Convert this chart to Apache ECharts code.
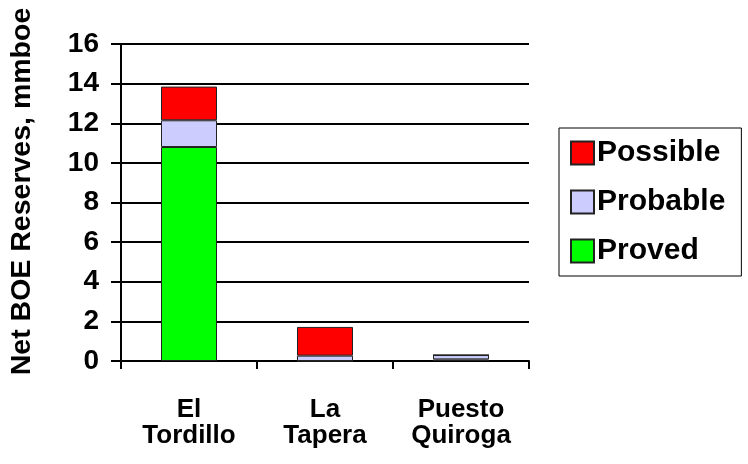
<!DOCTYPE html>
<html>
<head>
<meta charset="utf-8">
<script src="https://cdn.jsdelivr.net/npm/echarts@6/dist/echarts.min.js"></script>
<style>
  html, body { margin: 0; padding: 0; background: #fff; }
  #chart { width: 748px; height: 464px; }
</style>
</head>
<body>
<div id="chart"></div>
<script>
// Reserve categories (fields) and net BOE reserves per class, mmboe
const fields = ['El\nTordillo', 'La\nTapera', 'Puesto\nQuiroga'];
const proved = [10.8, 0, 0.08];
const probable = [1.35, 0.27, 0.22];
const possible = [1.7, 1.45, 0];
const yTicks = [0, 2, 4, 6, 8, 10, 12, 14, 16];

const FONT = '"Liberation Sans", Arial, sans-serif';
const chart = echarts.init(document.getElementById('chart'), null, { renderer: 'canvas' });

const barStyle = (color) => ({ color: color, borderColor: '#222', borderWidth: 1 });

chart.setOption({
  animation: false,
  backgroundColor: '#fff',
  textStyle: { fontFamily: FONT },
  grid: { left: 115, right: 219, top: 44, bottom: 103, containLabel: false },
  legend: {
    orient: 'vertical',
    left: 559,
    top: 128,
    data: ['Possible', 'Probable', 'Proved'],
    icon: 'rect',
    itemWidth: 23,
    itemHeight: 23,
    itemGap: 19,
    padding: [10, 16, 10, 11],
    borderColor: '#000',
    borderWidth: 1,
    textStyle: { fontFamily: FONT, fontSize: 30, fontWeight: 'bold', color: '#000', padding: [0, 0, 0, -2] }
  },
  xAxis: {
    type: 'category',
    data: fields,
    axisLine: { lineStyle: { color: '#000', width: 2 } },
    axisTick: { show: true, length: 8, lineStyle: { color: '#000', width: 2 } },
    axisLabel: {
      fontFamily: FONT, fontSize: 26, fontWeight: 'bold', color: '#000',
      margin: 36, lineHeight: 26, interval: 0
    },
    splitLine: { show: false }
  },
  yAxis: {
    type: 'value',
    min: yTicks[0],
    max: yTicks[yTicks.length - 1],
    interval: 2,
    name: 'Net BOE Reserves, mmboe',
    nameLocation: 'middle',
    nameGap: 84,
    nameTextStyle: {
      fontFamily: FONT, fontSize: 28.5, fontWeight: 'bold', color: '#000',
      padding: [0, 0, 0, 22]
    },
    axisLine: { show: true, lineStyle: { color: '#000', width: 2 } },
    axisTick: { show: true, length: 10, lineStyle: { color: '#000', width: 2 } },
    axisLabel: {
      fontFamily: FONT, fontSize: 28, fontWeight: 'bold', color: '#000', margin: 22
    },
    splitLine: { show: true, lineStyle: { color: '#000', width: 2 } }
  },
  series: [
    { name: 'Proved', type: 'bar', stack: 'total', barWidth: 56, data: proved, itemStyle: barStyle('#00FF00') },
    { name: 'Probable', type: 'bar', stack: 'total', barWidth: 56, data: probable, itemStyle: barStyle('#CCCCFF') },
    { name: 'Possible', type: 'bar', stack: 'total', barWidth: 56, data: possible, itemStyle: barStyle('#FF0000') }
  ]
});
</script>
</body>
</html>
